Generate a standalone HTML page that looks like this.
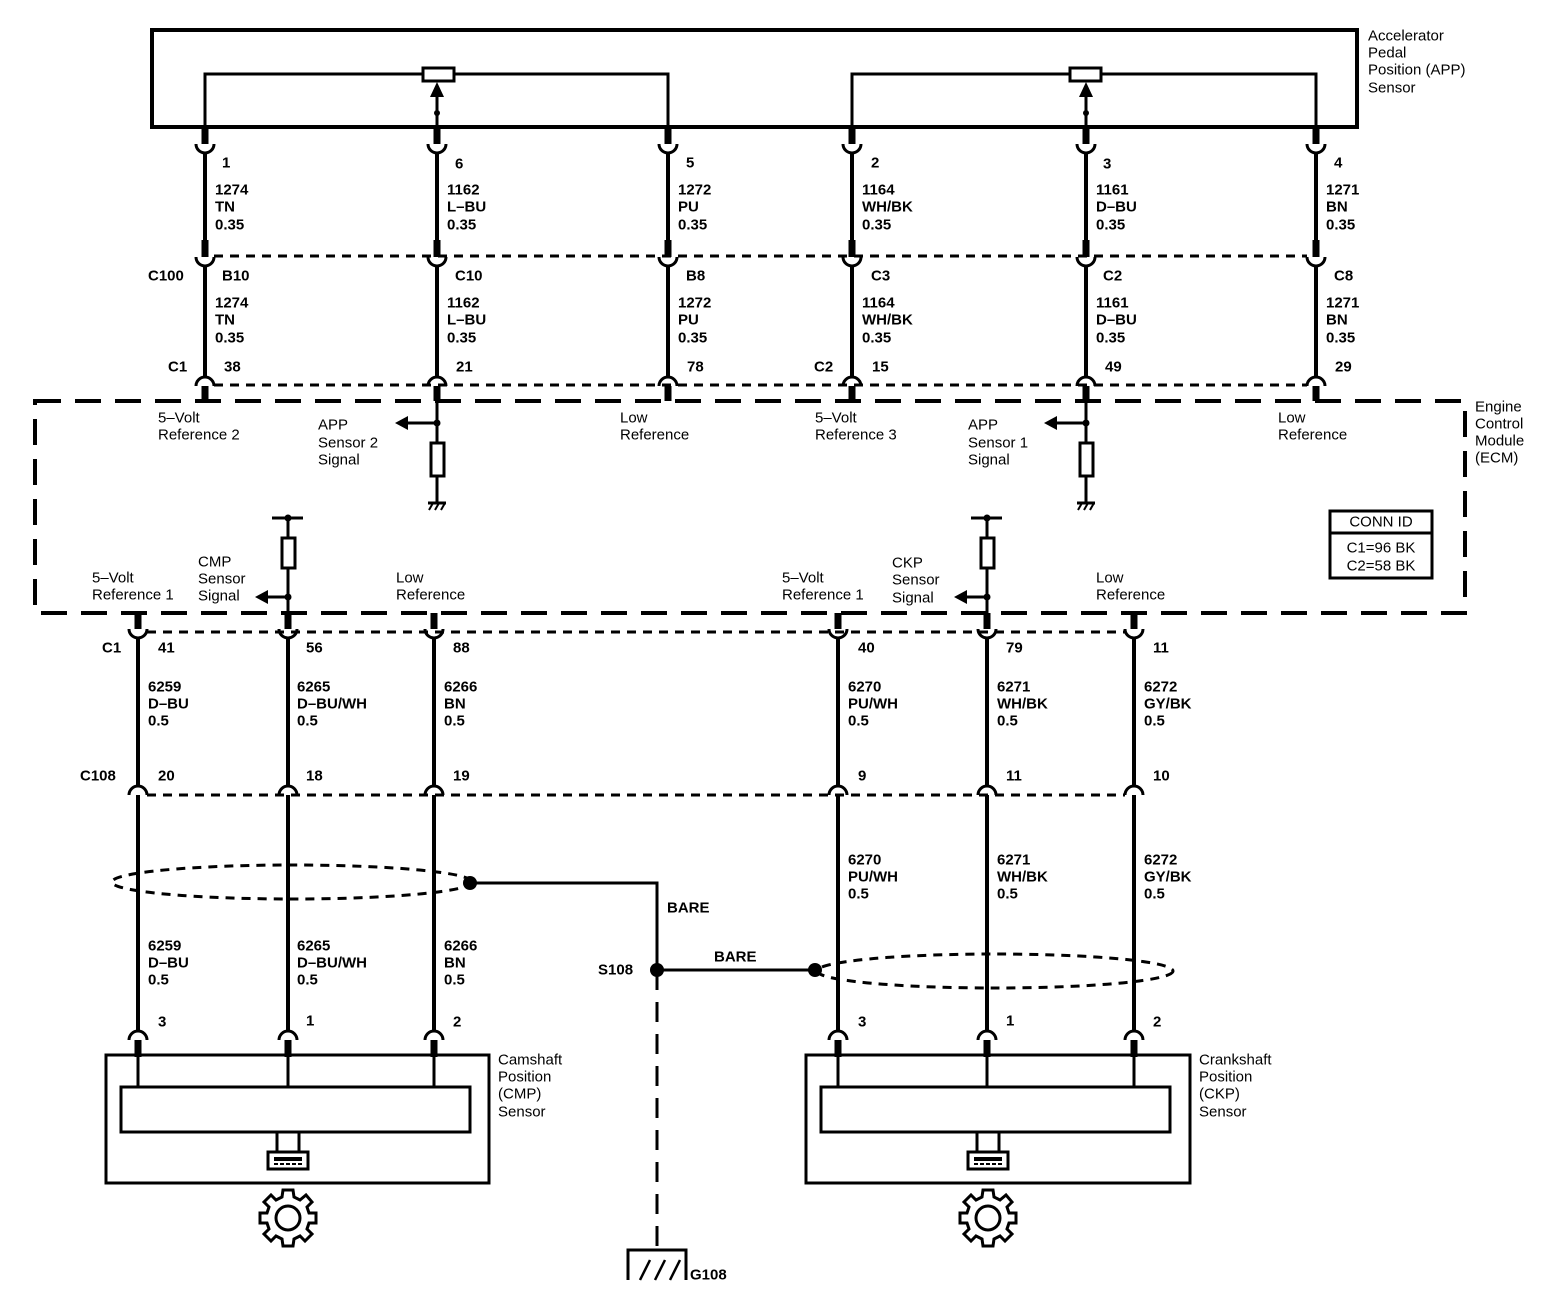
<!DOCTYPE html>
<html><head><meta charset="utf-8"><style>
html,body{margin:0;padding:0;background:#fff;}
svg{display:block}
text{font-family:"Liberation Sans",Arial,sans-serif;font-size:15px;fill:#000;dominant-baseline:central}
.b{font-weight:bold}
</style></head><body>
<svg width="1550" height="1312" viewBox="0 0 1550 1312" xmlns="http://www.w3.org/2000/svg">
<defs>
<path id="cu" d="M-9,0 A9,9 0 0 0 9,0" fill="none" stroke="#000" stroke-width="3"/>
<path id="cn" d="M-9,0 A9,9 0 0 1 9,0" fill="none" stroke="#000" stroke-width="3"/>
</defs>
<g stroke="#000" fill="none">
<rect x="152" y="30" width="1205" height="97" stroke-width="4"/>
<polyline points="205,127 205,74 668,74 668,127" stroke-width="3"/>
<polyline points="852,127 852,74 1316,74 1316,127" stroke-width="3"/>
<rect x="423" y="68" width="31" height="13" fill="#fff" stroke-width="3"/>
<rect x="1070" y="68" width="31" height="13" fill="#fff" stroke-width="3"/>
<line x1="437" y1="127" x2="437" y2="95" stroke-width="3"/>
<line x1="1086" y1="127" x2="1086" y2="95" stroke-width="3"/>
</g>
<polygon points="437,82 430,97 444,97"/><polygon points="1086,82 1079,97 1093,97"/>
<circle cx="437" cy="113" r="3"/><circle cx="1086" cy="113" r="3"/>

<g stroke="#000">
<g stroke-width="7">
<line x1="205" y1="127" x2="205" y2="144"/><line x1="437" y1="127" x2="437" y2="144"/><line x1="668" y1="127" x2="668" y2="144"/><line x1="852" y1="127" x2="852" y2="144"/><line x1="1086" y1="127" x2="1086" y2="144"/><line x1="1316" y1="127" x2="1316" y2="144"/>
<line x1="205" y1="240" x2="205" y2="257"/><line x1="437" y1="240" x2="437" y2="257"/><line x1="668" y1="240" x2="668" y2="257"/><line x1="852" y1="240" x2="852" y2="257"/><line x1="1086" y1="240" x2="1086" y2="257"/><line x1="1316" y1="240" x2="1316" y2="257"/>
<line x1="205" y1="386" x2="205" y2="401"/><line x1="437" y1="386" x2="437" y2="401"/><line x1="668" y1="386" x2="668" y2="401"/><line x1="852" y1="386" x2="852" y2="401"/><line x1="1086" y1="386" x2="1086" y2="401"/><line x1="1316" y1="386" x2="1316" y2="401"/>
</g>
<g stroke-width="4">
<line x1="205" y1="152" x2="205" y2="240"/><line x1="437" y1="152" x2="437" y2="240"/><line x1="668" y1="152" x2="668" y2="240"/><line x1="852" y1="152" x2="852" y2="240"/><line x1="1086" y1="152" x2="1086" y2="240"/><line x1="1316" y1="152" x2="1316" y2="240"/>
<line x1="205" y1="265" x2="205" y2="377"/><line x1="437" y1="265" x2="437" y2="377"/><line x1="668" y1="265" x2="668" y2="377"/><line x1="852" y1="265" x2="852" y2="377"/><line x1="1086" y1="265" x2="1086" y2="377"/><line x1="1316" y1="265" x2="1316" y2="377"/>
</g>
<g stroke-width="3">
<line x1="214" y1="256" x2="1307" y2="256" stroke-dasharray="9,7"/>
<line x1="214" y1="385" x2="1307" y2="385" stroke-dasharray="9,7"/>
</g>
</g>
<use href="#cu" x="205" y="144"/><use href="#cu" x="437" y="144"/><use href="#cu" x="668" y="144"/><use href="#cu" x="852" y="144"/><use href="#cu" x="1086" y="144"/><use href="#cu" x="1316" y="144"/>
<use href="#cu" x="205" y="257"/><use href="#cu" x="437" y="257"/><use href="#cu" x="668" y="257"/><use href="#cu" x="852" y="257"/><use href="#cu" x="1086" y="257"/><use href="#cu" x="1316" y="257"/>
<use href="#cn" x="205" y="386"/><use href="#cn" x="437" y="386"/><use href="#cn" x="668" y="386"/><use href="#cn" x="852" y="386"/><use href="#cn" x="1086" y="386"/><use href="#cn" x="1316" y="386"/>

<g class="b">
<text x="222" y="163">1</text><text x="455" y="164">6</text><text x="686" y="163">5</text><text x="871" y="163">2</text><text x="1103" y="164">3</text><text x="1334" y="163">4</text>
<text x="215" y="190">1274</text><text x="215" y="207">TN</text><text x="215" y="225">0.35</text>
<text x="447" y="190">1162</text><text x="447" y="207">L–BU</text><text x="447" y="225">0.35</text>
<text x="678" y="190">1272</text><text x="678" y="207">PU</text><text x="678" y="225">0.35</text>
<text x="862" y="190">1164</text><text x="862" y="207">WH/BK</text><text x="862" y="225">0.35</text>
<text x="1096" y="190">1161</text><text x="1096" y="207">D–BU</text><text x="1096" y="225">0.35</text>
<text x="1326" y="190">1271</text><text x="1326" y="207">BN</text><text x="1326" y="225">0.35</text>
<text x="148" y="276">C100</text>
<text x="222" y="276">B10</text><text x="455" y="276">C10</text><text x="686" y="276">B8</text><text x="871" y="276">C3</text><text x="1103" y="276">C2</text><text x="1334" y="276">C8</text>
<text x="215" y="303">1274</text><text x="215" y="320">TN</text><text x="215" y="338">0.35</text>
<text x="447" y="303">1162</text><text x="447" y="320">L–BU</text><text x="447" y="338">0.35</text>
<text x="678" y="303">1272</text><text x="678" y="320">PU</text><text x="678" y="338">0.35</text>
<text x="862" y="303">1164</text><text x="862" y="320">WH/BK</text><text x="862" y="338">0.35</text>
<text x="1096" y="303">1161</text><text x="1096" y="320">D–BU</text><text x="1096" y="338">0.35</text>
<text x="1326" y="303">1271</text><text x="1326" y="320">BN</text><text x="1326" y="338">0.35</text>
<text x="168" y="367">C1</text><text x="224" y="367">38</text><text x="456" y="367">21</text><text x="687" y="367">78</text>
<text x="814" y="367">C2</text><text x="872" y="367">15</text><text x="1105" y="367">49</text><text x="1335" y="367">29</text>
</g>
<text x="1368" y="36">Accelerator</text><text x="1368" y="53">Pedal</text><text x="1368" y="70">Position (APP)</text><text x="1368" y="88">Sensor</text>

<rect x="35" y="401" width="1430" height="212" fill="none" stroke="#000" stroke-width="4" stroke-dasharray="26,14"/>
<text x="1475" y="407">Engine</text><text x="1475" y="424">Control</text><text x="1475" y="441">Module</text><text x="1475" y="458">(ECM)</text>
<text x="158" y="418">5–Volt</text><text x="158" y="435">Reference 2</text>
<text x="318" y="425">APP</text><text x="318" y="443">Sensor 2</text><text x="318" y="460">Signal</text>
<text x="620" y="418">Low</text><text x="620" y="435">Reference</text>
<text x="815" y="418">5–Volt</text><text x="815" y="435">Reference 3</text>
<text x="968" y="425">APP</text><text x="968" y="443">Sensor 1</text><text x="968" y="460">Signal</text>
<text x="1278" y="418">Low</text><text x="1278" y="435">Reference</text>
<text x="92" y="578">5–Volt</text><text x="92" y="595">Reference 1</text>
<text x="198" y="562">CMP</text><text x="198" y="579">Sensor</text><text x="198" y="596">Signal</text>
<text x="396" y="578">Low</text><text x="396" y="595">Reference</text>
<text x="782" y="578">5–Volt</text><text x="782" y="595">Reference 1</text>
<text x="892" y="563">CKP</text><text x="892" y="580">Sensor</text><text x="892" y="598">Signal</text>
<text x="1096" y="578">Low</text><text x="1096" y="595">Reference</text>
<rect x="1330" y="511" width="102" height="67" fill="none" stroke="#000" stroke-width="3"/>
<line x1="1330" y1="533" x2="1432" y2="533" stroke="#000" stroke-width="3"/>
<text x="1381" y="522" text-anchor="middle">CONN ID</text>
<text x="1381" y="548" text-anchor="middle">C1=96 BK</text><text x="1381" y="566" text-anchor="middle">C2=58 BK</text>

<g stroke="#000" stroke-width="3" fill="none">
<line x1="437" y1="401" x2="437" y2="443"/><line x1="437" y1="423" x2="405" y2="423"/>
<rect x="431" y="443" width="13" height="33" fill="#fff"/><line x1="437" y1="476" x2="437" y2="503"/>
<line x1="428" y1="503" x2="446" y2="503"/>
<line x1="1086" y1="401" x2="1086" y2="443"/><line x1="1086" y1="423" x2="1054" y2="423"/>
<rect x="1080" y="443" width="13" height="33" fill="#fff"/><line x1="1086" y1="476" x2="1086" y2="503"/>
<line x1="1077" y1="503" x2="1095" y2="503"/>
<line x1="272" y1="518" x2="303" y2="518"/><line x1="288" y1="518" x2="288" y2="538"/>
<rect x="282" y="538" width="13" height="30" fill="#fff"/><line x1="288" y1="568" x2="288" y2="613"/><line x1="288" y1="597" x2="265" y2="597"/>
<line x1="971" y1="518" x2="1002" y2="518"/><line x1="987" y1="518" x2="987" y2="538"/>
<rect x="981" y="538" width="13" height="30" fill="#fff"/><line x1="987" y1="568" x2="987" y2="613"/><line x1="987" y1="597" x2="964" y2="597"/>
<path d="M429,510 l4,-7 M435,510 l4,-7 M441,510 l4,-7 M1078,510 l4,-7 M1084,510 l4,-7 M1090,510 l4,-7" stroke-width="2"/>
</g>
<polygon points="395,423 408,416 408,430"/><polygon points="1044,423 1057,416 1057,430"/>
<polygon points="255,597 268,590 268,604"/><polygon points="954,597 967,590 967,604"/>
<circle cx="437" cy="423" r="3.5"/><circle cx="1086" cy="423" r="3.5"/>
<circle cx="288" cy="518" r="3.5"/><circle cx="288" cy="597" r="3.5"/><circle cx="987" cy="518" r="3.5"/><circle cx="987" cy="597" r="3.5"/>

<g stroke="#000">
<g stroke-width="7">
<line x1="138" y1="613" x2="138" y2="629"/><line x1="288" y1="613" x2="288" y2="629"/><line x1="434" y1="613" x2="434" y2="629"/><line x1="838" y1="613" x2="838" y2="629"/><line x1="987" y1="613" x2="987" y2="629"/><line x1="1134" y1="613" x2="1134" y2="629"/>
<line x1="138" y1="1040" x2="138" y2="1057"/><line x1="288" y1="1040" x2="288" y2="1057"/><line x1="434" y1="1040" x2="434" y2="1057"/><line x1="838" y1="1040" x2="838" y2="1057"/><line x1="987" y1="1040" x2="987" y2="1057"/><line x1="1134" y1="1040" x2="1134" y2="1057"/>
</g>
<g stroke-width="4">
<line x1="138" y1="637" x2="138" y2="787"/><line x1="288" y1="637" x2="288" y2="787"/><line x1="434" y1="637" x2="434" y2="787"/><line x1="838" y1="637" x2="838" y2="787"/><line x1="987" y1="637" x2="987" y2="787"/><line x1="1134" y1="637" x2="1134" y2="787"/>
<line x1="138" y1="795" x2="138" y2="1031"/><line x1="288" y1="795" x2="288" y2="1031"/><line x1="434" y1="795" x2="434" y2="1031"/><line x1="838" y1="795" x2="838" y2="1031"/><line x1="987" y1="795" x2="987" y2="1031"/><line x1="1134" y1="795" x2="1134" y2="1031"/>
</g>
<g stroke-width="3">
<line x1="147" y1="632" x2="1125" y2="632" stroke-dasharray="9,7"/>
<line x1="147" y1="795" x2="1125" y2="795" stroke-dasharray="9,7"/>
</g>
</g>
<use href="#cu" x="138" y="629"/><use href="#cu" x="288" y="629"/><use href="#cu" x="434" y="629"/><use href="#cu" x="838" y="629"/><use href="#cu" x="987" y="629"/><use href="#cu" x="1134" y="629"/>
<use href="#cn" x="138" y="795"/><use href="#cn" x="288" y="795"/><use href="#cn" x="434" y="795"/><use href="#cn" x="838" y="795"/><use href="#cn" x="987" y="795"/><use href="#cn" x="1134" y="795"/>
<use href="#cn" x="138" y="1040"/><use href="#cn" x="288" y="1040"/><use href="#cn" x="434" y="1040"/><use href="#cn" x="838" y="1040"/><use href="#cn" x="987" y="1040"/><use href="#cn" x="1134" y="1040"/>

<g class="b">
<text x="102" y="648">C1</text><text x="158" y="648">41</text><text x="306" y="648">56</text><text x="453" y="648">88</text><text x="858" y="648">40</text><text x="1006" y="648">79</text><text x="1153" y="648">11</text>
<text x="148" y="687">6259</text><text x="148" y="704">D–BU</text><text x="148" y="721">0.5</text>
<text x="297" y="687">6265</text><text x="297" y="704">D–BU/WH</text><text x="297" y="721">0.5</text>
<text x="444" y="687">6266</text><text x="444" y="704">BN</text><text x="444" y="721">0.5</text>
<text x="848" y="687">6270</text><text x="848" y="704">PU/WH</text><text x="848" y="721">0.5</text>
<text x="997" y="687">6271</text><text x="997" y="704">WH/BK</text><text x="997" y="721">0.5</text>
<text x="1144" y="687">6272</text><text x="1144" y="704">GY/BK</text><text x="1144" y="721">0.5</text>
<text x="80" y="776">C108</text><text x="158" y="776">20</text><text x="306" y="776">18</text><text x="453" y="776">19</text><text x="858" y="776">9</text><text x="1006" y="776">11</text><text x="1153" y="776">10</text>
<text x="848" y="860">6270</text><text x="848" y="877">PU/WH</text><text x="848" y="894">0.5</text>
<text x="997" y="860">6271</text><text x="997" y="877">WH/BK</text><text x="997" y="894">0.5</text>
<text x="1144" y="860">6272</text><text x="1144" y="877">GY/BK</text><text x="1144" y="894">0.5</text>
<text x="148" y="946">6259</text><text x="148" y="963">D–BU</text><text x="148" y="980">0.5</text>
<text x="297" y="946">6265</text><text x="297" y="963">D–BU/WH</text><text x="297" y="980">0.5</text>
<text x="444" y="946">6266</text><text x="444" y="963">BN</text><text x="444" y="980">0.5</text>
<text x="667" y="908">BARE</text><text x="714" y="957">BARE</text><text x="598" y="970">S108</text>
<text x="158" y="1022">3</text><text x="306" y="1021">1</text><text x="453" y="1022">2</text>
<text x="858" y="1022">3</text><text x="1006" y="1021">1</text><text x="1153" y="1022">2</text>
<text x="690" y="1275">G108</text>
</g>

<g stroke="#000" fill="none" stroke-width="3">
<ellipse cx="292" cy="882" rx="180" ry="17" stroke-dasharray="9,7"/>
<ellipse cx="995" cy="971" rx="178" ry="17" stroke-dasharray="9,7"/>
<polyline points="470,883 657,883 657,970 815,970"/>
<line x1="657" y1="970" x2="657" y2="1250" stroke-dasharray="20,12" stroke-width="3"/>
<polyline points="628,1280 628,1250 686,1250 686,1280"/>
<path d="M640,1280 l10,-20 M655,1280 l10,-20 M670,1280 l10,-20" stroke-width="2.5"/>
</g>
<circle cx="470" cy="883" r="7"/><circle cx="657" cy="970" r="7"/><circle cx="815" cy="970" r="7"/>

<g stroke="#000" fill="none" stroke-width="3">
<rect x="106" y="1055" width="383" height="128"/>
<rect x="121" y="1087" width="349" height="45"/>
<line x1="138" y1="1055" x2="138" y2="1087"/><line x1="288" y1="1055" x2="288" y2="1087"/><line x1="434" y1="1055" x2="434" y2="1087"/>
<line x1="277" y1="1132" x2="277" y2="1152"/><line x1="299" y1="1132" x2="299" y2="1152"/>
<rect x="268" y="1152" width="40" height="17"/>
<rect x="806" y="1055" width="384" height="128"/>
<rect x="821" y="1087" width="349" height="45"/>
<line x1="838" y1="1055" x2="838" y2="1087"/><line x1="987" y1="1055" x2="987" y2="1087"/><line x1="1134" y1="1055" x2="1134" y2="1087"/>
<line x1="977" y1="1132" x2="977" y2="1152"/><line x1="999" y1="1132" x2="999" y2="1152"/>
<rect x="968" y="1152" width="40" height="17"/>
</g>
<rect x="274" y="1157" width="28" height="4"/><rect x="974" y="1157" width="28" height="4"/>
<path d="M274,1164 h28" stroke="#000" stroke-width="2" stroke-dasharray="4,2"/>
<path d="M974,1164 h28" stroke="#000" stroke-width="2" stroke-dasharray="4,2"/>
<g fill="none" stroke="#000" stroke-width="3">
<g transform="translate(288,1218)">
<circle r="12"/>
<path d="M-5,-28 H5 L6,-21 L12,-18 L18,-23 L24,-16 L19,-11 L21,-5 L28,-5 V5 L21,5 L19,11 L24,16 L17,23 L12,18 L6,21 L5,28 H-5 L-6,21 L-12,18 L-17,23 L-24,16 L-19,11 L-21,5 L-28,5 V-5 L-21,-5 L-19,-11 L-24,-16 L-17,-23 L-12,-18 L-6,-21 Z"/>
</g>
<g transform="translate(988,1218)">
<circle r="12"/>
<path d="M-5,-28 H5 L6,-21 L12,-18 L18,-23 L24,-16 L19,-11 L21,-5 L28,-5 V5 L21,5 L19,11 L24,16 L17,23 L12,18 L6,21 L5,28 H-5 L-6,21 L-12,18 L-17,23 L-24,16 L-19,11 L-21,5 L-28,5 V-5 L-21,-5 L-19,-11 L-24,-16 L-17,-23 L-12,-18 L-6,-21 Z"/>
</g>
</g>
<text x="498" y="1060">Camshaft</text><text x="498" y="1077">Position</text><text x="498" y="1094">(CMP)</text><text x="498" y="1112">Sensor</text>
<text x="1199" y="1060">Crankshaft</text><text x="1199" y="1077">Position</text><text x="1199" y="1094">(CKP)</text><text x="1199" y="1112">Sensor</text>
</svg>
</body></html>
